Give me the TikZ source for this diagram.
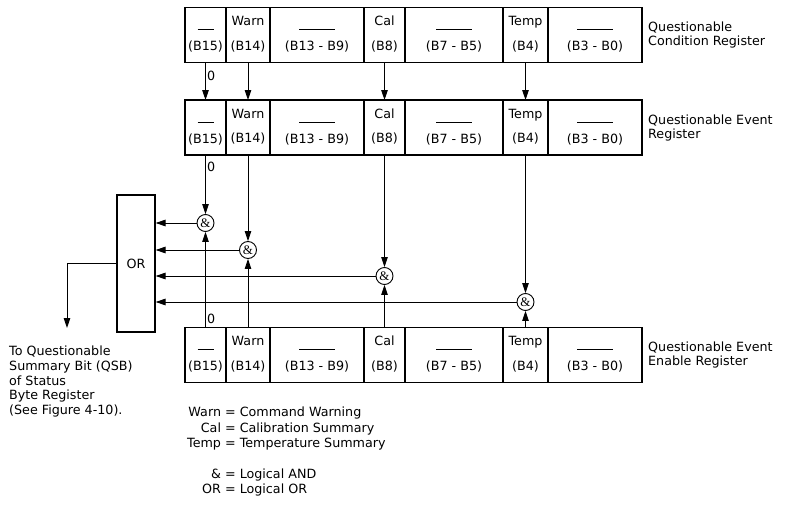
\documentclass[tikz,border=0pt]{standalone}
\usepackage{fontspec}
\setmainfont{DejaVu Sans}
\newfontfamily\gatefont{Liberation Serif}
\usetikzlibrary{positioning,arrows.meta,calc}

\begin{document}
\begin{tikzpicture}[x=1pt, y=-1pt, font=\fontsize{12.7}{15.4}\selectfont,
  cell/.style={draw, line width=1.1pt, minimum height=55pt, inner sep=0pt,
               outer sep=0pt, align=center, anchor=west},
  gate/.style={draw, circle, line width=0.9pt, minimum size=17pt, inner sep=0pt,
               fill=white, font=\gatefont\fontsize{13}{13}\selectfont},
  flow/.style={-{Triangle[length=10pt,width=6.5pt]}, line width=0.9pt},
  note/.style={align=left, inner sep=0pt, font=\fontsize{12.7}{14}\selectfont}]

\useasboundingbox (0,0) rectangle (787,511);

\foreach \r/\y in {qc/35, qe/127.5, en/355}{
  \node[cell, minimum width=41pt] (\r15) at (185,\y) {\strut\rule[-5pt]{16pt}{0.9pt}\\[9pt]\strut(B15)};
  \node[cell, minimum width=44pt, right=0pt of \r15] (\r14) {\strut Warn\\[9pt]\strut(B14)};
  \node[cell, minimum width=94pt, right=0pt of \r14] (\r13) {\strut\rule[-5pt]{36pt}{0.9pt}\\[9pt]\strut(B13 - B9)};
  \node[cell, minimum width=41pt, right=0pt of \r13] (\r8)  {\strut Cal\\[9pt]\strut(B8)};
  \node[cell, minimum width=98pt, right=0pt of \r8]  (\r7)  {\strut\rule[-5pt]{36pt}{0.9pt}\\[9pt]\strut(B7 - B5)};
  \node[cell, minimum width=45pt, right=0pt of \r7]  (\r4)  {\strut Temp\\[9pt]\strut(B4)};
  \node[cell, minimum width=94pt, right=0pt of \r4]  (\r3)  {\strut\rule[-5pt]{36pt}{0.9pt}\\[9pt]\strut(B3 - B0)};
}

\node[note, right=6pt of qc3] (qclbl) {Questionable\\Condition Register};
\node[note, right=6pt of qe3] (qelbl) {Questionable Event\\Register};
\node[note, right=6pt of en3] (enlbl) {Questionable Event\\Enable Register};

\foreach \b/\d in {15/68, 14/95, 8/121, 4/147}{
  \node[gate] (g\b) at ($(qe\b.south)+(0,\d)$) {\&};
}

\node[draw, line width=1.1pt, minimum width=38pt, minimum height=137pt, inner sep=0pt] (or) at (136,263.5) {OR};

\foreach \b in {15,14,8,4}{
  \draw[flow] (qc\b.south) -- (qe\b.north);
  \draw[flow] (qe\b.south) -- (g\b.north);
  \draw[flow] (en\b.north) -- (g\b.south);
  \draw[flow] (g\b.west) -- (g\b.west -| or.east);
}

\node[right=1.5pt, inner sep=0pt] (z1) at ($(qc15.south)!0.35!(qe15.north)$) {0};
\node[right=1.5pt, inner sep=0pt] (z2) at ($(qe15.south)!0.2!(g15.north)$) {0};
\node[right=1.5pt, inner sep=0pt] (z3) at ($(en15.north)!0.09!(g15.south)$) {0};

\coordinate (qsb) at (67,328);
\draw[flow] (or.west) -| (qsb);

\node[note, anchor=north west, font=\fontsize{12.7}{14.7}\selectfont] (qsbtxt) at (9,346)
  {To Questionable\\Summary Bit (QSB)\\of Status\\Byte Register\\(See Figure 4-10).};

\node[inner sep=0pt, anchor=north west] (legend) at (187,405.7) {%
  \begin{tabular}{@{}r@{ = }l@{}}
  Warn & Command Warning\\
  Cal & Calibration Summary\\
  Temp & Temperature Summary\\[15.4pt]
  \& & Logical AND\\
  OR & Logical OR
  \end{tabular}};
\end{tikzpicture}
\end{document}
